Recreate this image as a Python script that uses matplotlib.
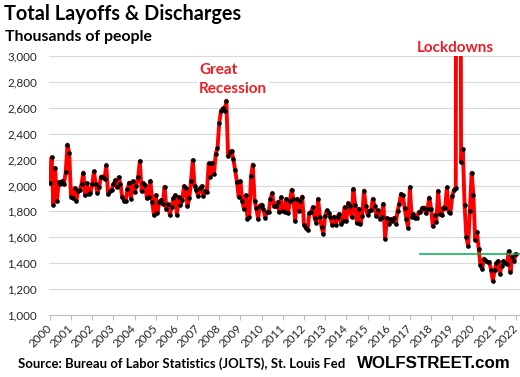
import numpy as np
import matplotlib
matplotlib.use("Agg")
import matplotlib.pyplot as plt

# ---- data (thousands of people), monthly Dec 2000 .. Dec 2022 ----
seg_2000_2005 = [2018, 2218, 1853, 2134, 1877, 2026, 2013, 2033, 2008, 2103, 2316, 2249,
                 1915, 1900, 1980, 1879, 1956, 1967, 2013, 2100, 1923, 2018, 1931, 1941,
                 2008, 2110, 2008, 1943, 1992, 2069, 2069, 2051, 2157, 1931, 1956, 1967,
                 2008, 2039, 1987, 2064, 2013, 1910, 1884, 1884, 1972, 2023, 1897, 2033,
                 1949, 2000, 2064, 2188, 1954, 2018, 2005]
seg_2005_2009 = [1900, 1912, 2036, 1874, 1771, 1925, 1789, 1874, 1887, 1856, 1990, 1822,
                 1856, 1771, 1835, 1900, 1925, 1771, 1912, 1848, 1887, 1995, 1977, 1840,
                 1900, 2036, 2196, 1995, 1964, 1918, 1977, 1995, 1918, 1959, 1951, 2170,
                 2067, 2175, 2088, 2247, 2286, 2484, 2577, 2595, 2577, 2655, 2227, 2260,
                 2268, 2201, 2119, 2028, 1912]
seg_2009_2014 = [2033, 1879, 1820, 1923, 1742, 1760, 2070, 2162, 1884, 1827, 1742, 1845,
                 1853, 1820, 1750, 1794, 1794, 1897, 1941, 1838, 1838, 1871, 1794, 1910,
                 1802, 1794, 1897, 1786, 1879, 1967, 1897, 1724, 1897, 1802, 1884, 1915,
                 1698, 1673, 1657, 1786, 1794, 1833, 1750, 1709, 1897, 1760, 1678, 1626,
                 1768, 1807, 1790, 1755, 1698, 1760]
seg_2014_2018 = [1698, 1760, 1781, 1704, 1724, 1833, 1724, 1863, 1845, 1760, 1974, 1853,
                 1709, 1820, 1704, 1768, 1961, 1838, 1776, 1802, 1807, 1897, 1845, 1768,
                 1807, 1742, 1755, 1858, 1588, 1750, 1704, 1742, 1724, 1750, 1704, 1802,
                 1858, 1936, 1923, 1827, 1742, 1673, 1987, 1760, 1781, 1750, 1750, 1794,
                 1794, 1827, 1830, 1785, 1820]
seg_2018_2022 = [1907, 1822, 1685, 1770, 1719, 1959, 1778, 1770, 1830, 1830, 1985, 1796,
                 1788, 1917, 1969, 1977, 13000, 9300,
                 2183, 2279, 1848, 1603, 1530, 1800, 2098, 1925, 1582, 1641, 1512, 1383,
                 1358, 1435, 1420, 1409, 1409, 1350, 1262, 1345, 1401, 1417, 1319, 1380,
                 1417, 1401, 1396, 1492, 1332, 1448, 1417, 1469]
layoffs = seg_2000_2005 + seg_2005_2009 + seg_2009_2014 + seg_2014_2018 + seg_2018_2022

year_labels = [str(y) for y in range(2000, 2023)]
y_ticks = [1000, 1200, 1400, 1600, 1800, 2000, 2200, 2400, 2600, 2800, 3000]
reference_level = 1468
reference_start_month = 210   # months after Dec 2000

# ---- figure ----
W, H = 520, 377
fig = plt.figure(figsize=(W / 100, H / 100), dpi=100)
ax = fig.add_axes([49.3 / W, 1 - 315 / H, (W - 49.3) / W, (315 - 56) / H])

x = np.arange(len(layoffs))
ax.plot(x, layoffs, color='#ff0000', lw=2.8, solid_joinstyle='round', zorder=3)
ax.plot(x, layoffs, ls='none', marker='o', ms=2.3, mfc='black', mec='black', zorder=4)
ax.plot([reference_start_month, len(layoffs) + 3], [reference_level, reference_level],
        color='#00b050', lw=1.1, zorder=5, clip_on=False)

ax.set_ylim(1000, 3000)
ax.set_xlim(-0.3, 266.4)
ax.set_yticks(y_ticks)
ax.set_yticklabels([f"{v:,}" for v in y_ticks])
ax.set_xticks(np.arange(0, 12 * len(year_labels), 12))
ax.set_xticklabels(year_labels)

ax.grid(axis='y', color='#d9d9d9', lw=0.8, zorder=0)
ax.set_axisbelow(True)
for s in ['top', 'right', 'left']:
    ax.spines[s].set_visible(False)
ax.spines['bottom'].set_color('#bfbfbf')
ax.spines['bottom'].set_linewidth(0.8)

font = 'Lato'
ax.tick_params(axis='y', length=0, pad=9, labelsize=8.4, labelcolor='#262626')
ax.tick_params(axis='x', length=3.5, width=0.8, color='#bfbfbf', pad=5,
               labelsize=8.4, labelcolor='#262626')
for lab in ax.get_yticklabels():
    lab.set_fontfamily(font)
for lab in ax.get_xticklabels():
    lab.set_fontfamily(font)
    lab.set_rotation(45)
    lab.set_ha('right')
    lab.set_va('center')
    lab.set_rotation_mode('anchor')

red = '#ee1c25'
fig.text(4 / W, 1 - 20 / H, "Total Layoffs & Discharges", fontsize=14.3, fontweight='bold',
         family=font, va='baseline', ha='left')
fig.text(5 / W, 1 - 41.5 / H, "Thousands of people", fontsize=11.4, fontweight='bold',
         family=font, va='baseline', ha='left')
ax.text(84.5, 2714, "Great\nRecession", color=red, fontsize=11, fontweight='bold',
        family=font, va='baseline', ha='left', linespacing=1.45,
        bbox=dict(facecolor='white', edgecolor='none', pad=1.5), zorder=6)
ax.text(229.6, 3033, "Lockdowns", color=red, fontsize=11, fontweight='bold',
        family=font, va='baseline', ha='center', clip_on=False)
fig.text(18 / W, 1 - 368 / H, "Source: Bureau of Labor Statistics (JOLTS), St. Louis Fed",
         fontsize=9.45, fontweight='bold', family=font, va='baseline', ha='left')
fig.text(511 / W, 1 - 368 / H, "WOLFSTREET.com", fontsize=12.2, fontweight='bold',
         family='Liberation Sans', va='baseline', ha='right')

fig.savefig('out.png', dpi=100)
